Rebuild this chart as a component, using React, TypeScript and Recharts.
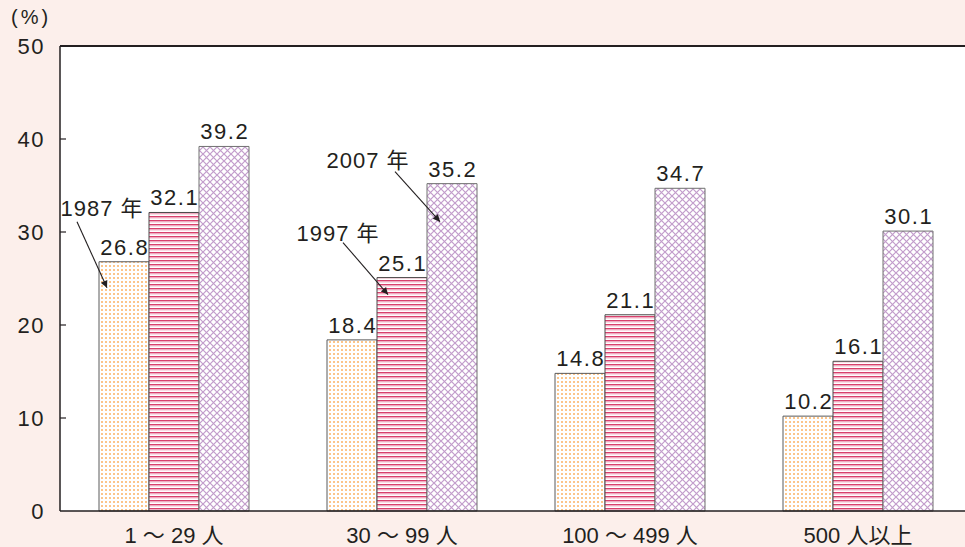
import React from 'react';
import {
  BarChart,
  Bar,
  XAxis,
  YAxis,
  CartesianGrid,
  ReferenceLine,
  LabelList,
} from 'recharts';

// Size classes (number of employees)
const categories = ['1 ～ 29 人', '30 ～ 99 人', '100 ～ 499 人', '500 人以上'];
// Share (%) per survey year
const values1987 = [26.8, 18.4, 14.8, 10.2];
const values1997 = [32.1, 25.1, 21.1, 16.1];
const values2007 = [39.2, 35.2, 34.7, 30.1];
const yTicks = [0, 10, 20, 30, 40, 50];
const unitLabel = '(%)';

// Year callouts: which series / category they point at
const callouts = [
  { key: 'y1987', index: 0, text: '1987 年' },
  { key: 'y1997', index: 1, text: '1997 年' },
  { key: 'y2007', index: 1, text: '2007 年' },
];

// Callout geometry relative to the bar's top-left corner
const calloutLayout: Record<string, { tx: number; ty: number; ax1: number; ay1: number; ax2: number; ay2: number }> = {
  y1987: { tx: 3, ty: -46, ax1: -22, ay1: -40, ax2: 8, ay2: 26 },
  y1997: { tx: -39, ty: -37, ax1: -34, ay1: -35, ax2: 11, ay2: 17 },
  y2007: { tx: -59, ty: -16, ax1: -32, ay1: -12, ax2: 13, ay2: 38 },
};

const data = categories.map((name, i) => ({
  name,
  y1987: values1987[i],
  y1997: values1997[i],
  y2007: values2007[i],
}));

const FONT = "'Liberation Sans', Arial, 'Noto Sans CJK JP', sans-serif";
const INK = '#231f20';
const BG = '#fcefeb';

const makeValueLabel = (key: string) => (props: any) => {
  const { x, y, width, value, index } = props;
  const cx = Number(x) + Number(width) / 2;
  const top = Number(y);
  const bx = Number(x);
  const c = callouts.find((k) => k.key === key && k.index === index);
  const lay = c ? calloutLayout[key] : null;
  return (
    <g>
      <text
        x={cx + 0.75}
        y={top - 7}
        textAnchor="middle"
        fontSize={22}
        letterSpacing={1.5}
        fontFamily={FONT}
        fill={INK}
      >
        {Number(value).toFixed(1)}
      </text>
      {c && lay && (
        <g>
          <text
            x={bx + lay.tx}
            y={top + lay.ty}
            textAnchor="middle"
            fontSize={22}
            letterSpacing={1}
            fontFamily={FONT}
            fill={INK}
          >
            {c.text}
          </text>
          <line
            x1={bx + lay.ax1}
            y1={top + lay.ay1}
            x2={bx + lay.ax2}
            y2={top + lay.ay2}
            stroke={INK}
            strokeWidth={1.1}
            markerEnd="url(#arrowHead)"
          />
        </g>
      )}
    </g>
  );
};

const YTick = (props: any) => {
  const { x, y, payload } = props;
  return (
    <g>
      {payload.value !== 0 && (
        <line x1={x + 16} x2={x + 22} y1={y} y2={y} stroke={INK} strokeWidth={1.2} />
      )}
      <text
        x={x + 1}
        y={y}
        dy={8}
        textAnchor="end"
        fontSize={22}
        letterSpacing={1.5}
        fontFamily={FONT}
        fill={INK}
      >
        {payload.value}
      </text>
    </g>
  );
};

const XTick = (props: any) => {
  const { x, y, payload } = props;
  return (
    <text
      x={x}
      y={y}
      dy={30}
      textAnchor="middle"
      fontSize={22}
      fontFamily={FONT}
      fill={INK}
    >
      {payload.value}
    </text>
  );
};

export default function App() {
  return (
    <div
      style={{
        position: 'absolute',
        left: 0,
        top: 0,
        width: 965,
        height: 547,
        overflow: 'hidden',
        background: BG,
      }}
    >
      <div
        style={{
          position: 'absolute',
          left: 11,
          top: 5,
          fontSize: 20,
          lineHeight: '24px',
          fontFamily: FONT,
          color: INK,
          letterSpacing: 3,
        }}
      >
        {unitLabel}
      </div>
      <BarChart
        width={980}
        height={547}
        data={data}
        margin={{ top: 46, right: 8, bottom: 0, left: 0 }}
        barSize={50}
        barGap={0}
      >
        <defs>
          <pattern id="dotFill" width={4} height={4} patternUnits="userSpaceOnUse">
            <rect width={4} height={4} fill="#ffffff" />
            <rect x={1} y={1} width={2} height={2} fill="#fcc58a" />
          </pattern>
          <pattern id="stripeFill" width={4} height={4} patternUnits="userSpaceOnUse">
            <rect width={4} height={4} fill="#ffffff" />
            <rect x={0} y={0} width={4} height={1.4} fill="#d8406c" />
            <rect x={0} y={1.4} width={4} height={1} fill="#f0a6bd" />
          </pattern>
          <pattern id="latticeFill" width={7} height={7} patternUnits="userSpaceOnUse">
            <rect width={7} height={7} fill="#ffffff" />
            <path d="M0,0 L7,7 M7,0 L0,7" stroke="#c29ccb" strokeWidth={1.2} />
          </pattern>
          <marker
            id="arrowHead"
            viewBox="0 0 10 10"
            refX={10}
            refY={5}
            markerWidth={9}
            markerHeight={7}
            markerUnits="userSpaceOnUse"
            orient="auto"
          >
            <path d="M0,0 L10,5 L0,10 z" fill={INK} />
          </marker>
        </defs>
        <CartesianGrid horizontal={false} vertical={false} fill="#ffffff" stroke="none" />
        <XAxis
          dataKey="name"
          height={36}
          tickLine={false}
          tickSize={0}
          axisLine={{ stroke: INK, strokeWidth: 1.5 }}
          tick={<XTick />}
          interval={0}
        />
        <YAxis
          width={60}
          domain={[0, 50]}
          ticks={yTicks}
          tickLine={false}
          tickSize={6}
          tickMargin={10}
          axisLine={{ stroke: INK, strokeWidth: 1.5 }}
          tick={<YTick />}
          interval={0}
        />
        <ReferenceLine y={50} stroke={INK} strokeWidth={1.8} />
        <Bar dataKey="y1987" fill="url(#dotFill)" stroke="#5a5a5a" strokeWidth={1} isAnimationActive={false}>
          <LabelList dataKey="y1987" content={makeValueLabel('y1987')} />
        </Bar>
        <Bar dataKey="y1997" fill="url(#stripeFill)" stroke="#4a4a4a" strokeWidth={1} isAnimationActive={false}>
          <LabelList dataKey="y1997" content={makeValueLabel('y1997')} />
        </Bar>
        <Bar dataKey="y2007" fill="url(#latticeFill)" stroke="#707070" strokeWidth={1} isAnimationActive={false}>
          <LabelList dataKey="y2007" content={makeValueLabel('y2007')} />
        </Bar>
      </BarChart>
    </div>
  );
}
